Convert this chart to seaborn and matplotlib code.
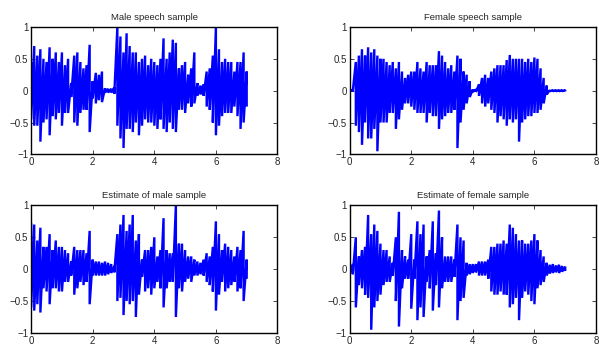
import numpy as np
import pandas as pd
import seaborn as sns
import matplotlib
matplotlib.use("Agg")
import matplotlib.pyplot as plt

# time axis (s), one envelope reading every 0.1 s
t = np.round(np.arange(71) * 0.1, 1)

# upper / lower peak of each 0.1 s slice
male_up = [0.45, 0.7, 0.55, 0.65, 0.5, 0.45, 0.68, 0.5, 0.6, 0.45,
           0.6, 0.4, 0.5, 0.12, 0.55, 0.6, 0.45, 0.35, 0.4, 0.72,
           0.15, 0.28, 0.25, 0.3, 0.04, 0.03, 0.03, 0.05, 1.0, 0.85,
           0.6, 0.9, 0.7, 0.6, 0.6, 0.45, 0.5, 0.55, 0.4, 0.5,
           0.45, 0.4, 0.5, 0.82, 0.5, 0.6, 0.8, 0.75, 0.35, 0.4,
           0.45, 0.25, 0.35, 0.6, 0.12, 0.08, 0.1, 0.3, 0.35, 0.55,
           1.0, 0.65, 0.45, 0.5, 0.45, 0.45, 0.3, 0.45, 0.45, 0.6, 0.3]
male_lo = [-0.45, -0.55, -0.55, -0.8, -0.5, -0.45, -0.7, -0.4, -0.45, -0.35,
           -0.55, -0.35, -0.35, -0.1, -0.5, -0.55, -0.35, -0.3, -0.3, -0.65,
           -0.12, -0.2, -0.15, -0.18, -0.03, -0.03, -0.03, -0.05, -0.55, -0.75,
           -0.9, -0.6, -0.6, -0.65, -0.5, -0.7, -0.55, -0.45, -0.5, -0.5,
           -0.55, -0.6, -0.45, -0.6, -0.65, -0.5, -0.6, -0.65, -0.3, -0.3,
           -0.35, -0.2, -0.25, -0.2, -0.08, -0.06, -0.08, -0.25, -0.3, -0.5,
           -0.7, -0.55, -0.4, -0.35, -0.35, -0.35, -0.25, -0.4, -0.6, -0.5, -0.25]

female_up = [0.01, 0.01, 0.45, 0.55, 0.65, 0.55, 0.68, 0.6, 0.65, 0.55,
             0.5, 0.5, 0.45, 0.4, 0.45, 0.35, 0.45, 0.3, 0.2, 0.25,
             0.3, 0.3, 0.45, 0.35, 0.3, 0.45, 0.4, 0.4, 0.4, 0.62,
             0.55, 0.45, 0.35, 0.4, 0.3, 0.55, 0.5, 0.3, 0.25, 0.15,
             0.02, 0.02, 0.1, 0.2, 0.25, 0.2, 0.3, 0.35, 0.4, 0.4,
             0.4, 0.48, 0.56, 0.5, 0.5, 0.5, 0.5, 0.45, 0.5, 0.45,
             0.52, 0.5, 0.35, 0.2, 0.08, 0.01, 0.01, 0.01, 0.01, 0.01, 0.01]
female_lo = [-0.01, -0.01, -0.55, -0.65, -0.85, -0.5, -0.75, -0.75, -0.6, -0.95,
             -0.5, -0.5, -0.5, -0.35, -0.35, -0.6, -0.45, -0.3, -0.2, -0.2,
             -0.25, -0.3, -0.35, -0.35, -0.35, -0.5, -0.35, -0.4, -0.4, -0.6,
             -0.45, -0.4, -0.35, -0.35, -0.3, -0.9, -0.5, -0.3, -0.2, -0.1,
             -0.02, -0.02, -0.08, -0.2, -0.25, -0.2, -0.3, -0.35, -0.5, -0.4,
             -0.45, -0.55, -0.45, -0.5, -0.45, -0.8, -0.5, -0.45, -0.4, -0.4,
             -0.35, -0.35, -0.3, -0.2, -0.06, -0.01, -0.01, -0.01, -0.01, -0.01, -0.01]

male_est_up = [0.72, 0.7, 0.45, 0.65, 0.35, 0.35, 0.55, 0.3, 0.45, 0.35,
               0.35, 0.3, 0.25, 0.12, 0.35, 0.3, 0.3, 0.3, 0.25, 0.6,
               0.15, 0.12, 0.12, 0.1, 0.12, 0.1, 0.08, 0.05, 0.55, 0.7,
               0.85, 0.6, 0.7, 0.85, 0.45, 0.55, 0.15, 0.3, 0.3, 0.35,
               0.5, 0.2, 0.3, 0.8, 0.3, 0.25, 0.25, 1.0, 0.4, 0.4,
               0.3, 0.2, 0.2, 0.15, 0.12, 0.1, 0.15, 0.25, 0.2, 0.35,
               0.75, 0.55, 0.3, 0.4, 0.35, 0.3, 0.2, 0.35, 0.3, 0.6, 0.15]
male_est_lo = [-0.6, -0.65, -0.55, -0.68, -0.3, -0.35, -0.55, -0.3, -0.3, -0.35,
               -0.35, -0.2, -0.2, -0.1, -0.4, -0.3, -0.2, -0.25, -0.2, -0.55,
               -0.1, -0.1, -0.1, -0.1, -0.1, -0.08, -0.06, -0.05, -0.5, -0.45,
               -0.72, -0.5, -0.55, -0.5, -0.75, -0.4, -0.12, -0.35, -0.3, -0.4,
               -0.3, -0.2, -0.3, -0.6, -0.3, -0.2, -0.2, -0.75, -0.3, -0.35,
               -0.2, -0.15, -0.2, -0.1, -0.1, -0.08, -0.1, -0.2, -0.25, -0.35,
               -0.65, -0.4, -0.2, -0.35, -0.3, -0.25, -0.2, -0.35, -0.3, -0.5, -0.15]

female_est_up = [0.06, 0.08, 0.5, 0.2, 0.3, 0.35, 0.85, 0.55, 0.7, 0.6,
                 0.4, 0.3, 0.3, 0.2, 0.1, 0.5, 0.9, 0.3, 0.2, 0.15,
                 0.55, 0.15, 0.75, 0.55, 0.7, 0.2, 0.3, 0.75, 0.25, 0.92,
                 0.5, 0.2, 0.2, 0.2, 0.15, 0.7, 0.5, 0.45, 0.1, 0.08,
                 0.08, 0.08, 0.12, 0.12, 0.12, 0.15, 0.35, 0.35, 0.4, 0.4,
                 0.45, 0.4, 0.7, 0.65, 0.55, 0.45, 0.45, 0.4, 0.4, 0.45,
                 0.55, 0.45, 0.3, 0.2, 0.1, 0.07, 0.08, 0.06, 0.07, 0.05, 0.04]
female_est_lo = [-0.06, -0.08, -0.6, -0.25, -0.3, -0.4, -0.45, -0.95, -0.6, -0.5,
                 -0.4, -0.25, -0.2, -0.2, -0.1, -0.5, -0.9, -0.3, -0.15, -0.15,
                 -0.62, -0.15, -0.8, -0.6, -0.75, -0.2, -0.3, -0.65, -0.25, -0.6,
                 -0.3, -0.2, -0.2, -0.2, -0.12, -0.8, -0.5, -0.45, -0.1, -0.08,
                 -0.06, -0.05, -0.1, -0.1, -0.1, -0.15, -0.35, -0.4, -0.4, -0.35,
                 -0.4, -0.4, -0.6, -0.55, -0.45, -0.8, -0.45, -0.35, -0.4, -0.5,
                 -0.55, -0.3, -0.25, -0.2, -0.1, -0.07, -0.06, -0.05, -0.06, -0.04, -0.03]

titles = ["Male speech sample", "Female speech sample",
          "Estimate of male sample", "Estimate of female sample"]
series = [(male_up, male_lo), (female_up, female_lo),
          (male_est_up, male_est_lo), (female_est_up, female_est_lo)]

sns.set_style("ticks")
plt.rcParams["font.family"] = ["Liberation Sans", "DejaVu Sans"]
plt.rcParams["xtick.direction"] = "in"
plt.rcParams["ytick.direction"] = "in"

fig, axes = plt.subplots(2, 2, figsize=(5.99, 3.45), dpi=100)
fig.subplots_adjust(left=0.052, right=0.995, top=0.922, bottom=0.035,
                    wspace=0.293, hspace=0.4)

for ax, title, (up, lo) in zip(axes.ravel(), titles, series):
    # alternate upper and lower peaks so the trace sweeps like a waveform
    df = pd.DataFrame({"time": np.repeat(t, 2),
                       "amp": np.column_stack([up, lo]).ravel()})
    sns.lineplot(data=df, x="time", y="amp", ax=ax, estimator=None,
                 sort=False, color="#0000ff", linewidth=1.7,
                 solid_joinstyle="bevel", solid_capstyle="butt")
    ax.set_xlim(0, 8)
    ax.set_ylim(-1, 1)
    ax.set_xticks([0, 2, 4, 6, 8])
    ax.set_yticks([-1, -0.5, 0, 0.5, 1])
    ax.set_yticklabels(["\u22121", "\u22120.5", "0", "0.5", "1"])
    ax.set_xlabel("")
    ax.set_ylabel("")
    ax.set_title(title, fontsize=6.8, pad=5)
    ax.tick_params(labelsize=7, length=3, width=0.6, top=True, right=True, pad=2)
    for s in ax.spines.values():
        s.set_linewidth(1.0)
        s.set_color("black")

fig.savefig("out.png", dpi=100)
